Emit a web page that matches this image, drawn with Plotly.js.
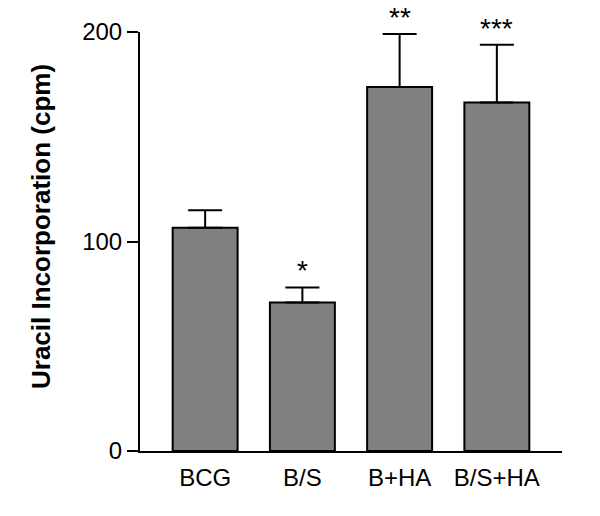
<!DOCTYPE html>
<html>
<head>
<meta charset="utf-8">
<script src="https://cdn.plot.ly/plotly-3.0.1.min.js"></script>
<style>
  html, body { margin: 0; padding: 0; background: #fff; }
  #chart { width: 600px; height: 516px; }
</style>
</head>
<body>
<div id="chart"></div>
<script>
// groups and measured means / upper error (SEM)
var groups = ["BCG", "B/S", "B+HA", "B/S+HA"];
var means = [106.6, 70.9, 173.7, 166.3];
var errors = [8.3, 7.2, 25.3, 27.6];
var stars = ["", "*", "**", "***"];
var yTicks = [0, 100, 200];

var fontFam = "Liberation Sans, Arial, sans-serif";

var trace = {
    type: "bar",
    x: groups,
    y: means,
    marker: { color: "#808080", line: { color: "#000", width: 2 } },
    error_y: {
        type: "data",
        symmetric: false,
        array: errors,
        arrayminus: errors.map(function () { return 0; }),
        color: "#000",
        thickness: 2,
        width: 17
    },
    hoverinfo: "skip"
};

// significance marks above the error bars
var annots = [];
for (var i = 0; i < groups.length; i++) {
    if (stars[i] == "") continue;
    annots.push({
        x: groups[i],
        y: means[i] + errors[i],
        xref: "x", yref: "y",
        text: stars[i],
        showarrow: false,
        yanchor: "bottom",
        yshift: -1,
        font: { family: fontFam, size: 28, color: "#000" }
    });
}
// y axis title
annots.push({
    xref: "paper", yref: "paper",
    x: -0.2346, y: 0.537,
    text: "<b>Uracil Incorporation (cpm)</b>",
    textangle: -90,
    showarrow: false,
    xanchor: "center", yanchor: "middle",
    font: { family: fontFam, size: 26, color: "#000" }
});

var layout = {
    width: 600,
    height: 516,
    margin: { l: 140, r: 38, t: 32, b: 65 },
    paper_bgcolor: "#fff",
    plot_bgcolor: "#fff",
    showlegend: false,
    bargap: 0.332,
    font: { family: fontFam, size: 24, color: "#000" },
    xaxis: {
        type: "category",
        range: [-0.67, 3.67],
        showline: true,
        linecolor: "#000",
        linewidth: 2,
        showgrid: false,
        zeroline: false,
        ticks: "outside",
        ticklen: 4,
        tickcolor: "rgba(0,0,0,0)",
        tickfont: { family: fontFam, size: 24, color: "#000" },
        fixedrange: true
    },
    yaxis: {
        range: [0, 200],
        tickvals: yTicks,
        showline: true,
        linecolor: "#000",
        linewidth: 2,
        showgrid: false,
        zeroline: false,
        ticks: "outside",
        ticklen: 11,
        tickwidth: 2,
        tickcolor: "#000",
        tickfont: { family: fontFam, size: 24, color: "#000" },
        fixedrange: true
    },
    annotations: annots
};

Plotly.newPlot("chart", [trace], layout, { displayModeBar: false, staticPlot: true });
</script>
</body>
</html>
